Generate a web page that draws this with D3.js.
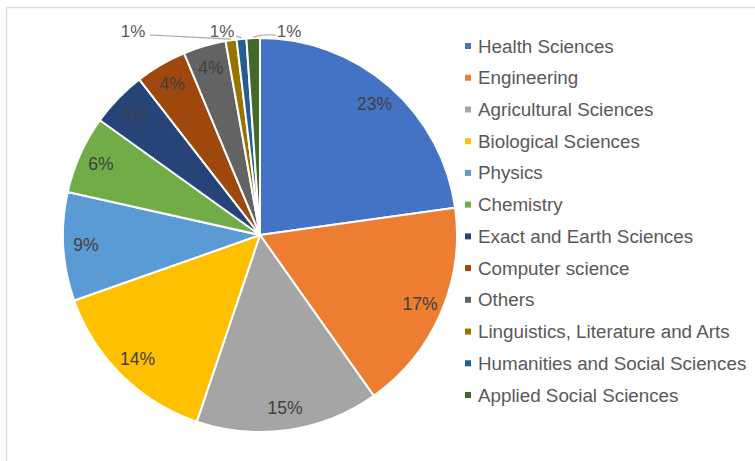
<!DOCTYPE html>
<html>
<head>
<meta charset="utf-8">
<script src="https://cdn.jsdelivr.net/npm/d3@7"></script>
<style>
  html, body { margin: 0; padding: 0; background: #fff; }
  svg { display: block; }
</style>
</head>
<body>
<svg id="chart" width="755" height="461"></svg>
<script>
// ---- data ----
const categories = [
  "Health Sciences", "Engineering", "Agricultural Sciences", "Biological Sciences",
  "Physics", "Chemistry", "Exact and Earth Sciences", "Computer science",
  "Others", "Linguistics, Literature and Arts", "Humanities and Social Sciences",
  "Applied Social Sciences"
];
const shares = [22.8, 17.4, 15.0, 14.4, 8.9, 6.4, 4.6, 4.2, 3.5, 0.9, 0.8, 1.1];
const labels = ["23%", "17%", "15%", "14%", "9%", "6%", "5%", "4%", "4%", "1%", "1%", "1%"];
const colors = [
  "#4472C4", "#ED7D31", "#A5A5A5", "#FFC000", "#5B9BD5", "#70AD47",
  "#264478", "#9E480E", "#636363", "#997300", "#255E91", "#43682B"
];

// ---- layout ----
const W = 755, H = 461;
const cx = 260, cy = 235, R = 197;
const svg = d3.select("#chart");

// frame
svg.append("path")
  .attr("d", `M6.5,${H} L6.5,7.5 L${W},7.5`)
  .attr("fill", "none")
  .attr("stroke", "#dddddd")
  .attr("stroke-width", 1.5);

const data = categories.map((c, i) => ({ name: c, value: shares[i], label: labels[i], color: colors[i], i }));

const pie = d3.pie().value(d => d.value).sort(null);
const arcs = pie(data);
const arc = d3.arc().innerRadius(0).outerRadius(R);
const labelArc = d3.arc().innerRadius(R * 0.885).outerRadius(R * 0.885);

const g = svg.append("g").attr("transform", `translate(${cx},${cy})`);

g.selectAll("path.slice")
  .data(arcs)
  .join("path")
  .attr("class", "slice")
  .attr("d", arc)
  .attr("fill", d => d.data.color)
  .attr("stroke", "#ffffff")
  .attr("stroke-width", 2)
  .attr("stroke-linejoin", "round");

// inside labels
const inside = arcs.filter(d => d.data.value >= 2);
g.selectAll("text.in")
  .data(inside)
  .join("text")
  .attr("class", "in")
  .attr("transform", d => `translate(${labelArc.centroid(d)})`)
  .attr("text-anchor", "middle")
  .attr("dominant-baseline", "central")
  .attr("font-family", "Liberation Sans, Arial, sans-serif")
  .attr("font-size", 17.5)
  .attr("fill", "#404040")
  .text(d => d.data.label);

// outside labels for tiny slices (label offsets relative to centre, elbow points)
const outside = arcs.filter(d => d.data.value < 2);
const outLayout = [
  { lx: -127, ly: -204, pts: [[-110, -200]] },
  { lx: -38, ly: -204, pts: [[-24, -199]] },
  { lx: 29, ly: -204, pts: [[16, -200], [2, -200]] }
];
const pointAt = (a, r) => [Math.sin(a) * r, -Math.cos(a) * r];
outside.forEach((d, k) => {
  const L = outLayout[k];
  const mid = (d.startAngle + d.endAngle) / 2;
  const end = pointAt(mid, R + 1);
  const line = d3.line();
  g.append("path")
    .attr("d", line([...L.pts, end]))
    .attr("fill", "none")
    .attr("stroke", "#a6a6a6")
    .attr("stroke-width", 1.2);
  g.append("text")
    .attr("x", L.lx)
    .attr("y", L.ly)
    .attr("text-anchor", "middle")
    .attr("dominant-baseline", "central")
    .attr("font-family", "Liberation Sans, Arial, sans-serif")
    .attr("font-size", 17)
    .attr("fill", "#595959")
    .text(d.data.label);
});

// legend
const legendY = d3.scalePoint().domain(categories).range([46, 395]);
const lg = svg.append("g");
const items = lg.selectAll("g.item")
  .data(data)
  .join("g")
  .attr("class", "item")
  .attr("transform", d => `translate(467,${legendY(d.name)})`);
items.append("rect")
  .attr("x", -2).attr("y", -3)
  .attr("width", 6).attr("height", 6)
  .attr("fill", d => d.color);
items.append("text")
  .attr("x", 11)
  .attr("y", 0)
  .attr("dominant-baseline", "central")
  .attr("font-family", "Liberation Sans, Arial, sans-serif")
  .attr("font-size", 18.8)
  .attr("fill", "#595959")
  .text(d => d.name);
</script>
</body>
</html>
